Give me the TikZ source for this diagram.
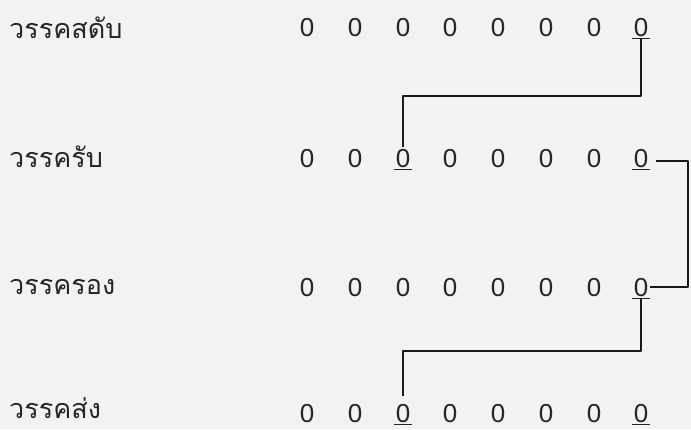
\documentclass[tikz,border=0pt]{standalone}
\usepackage{fontspec}
\newfontfamily\thaifont[Script=Thai]{Loma}
\newfontfamily\digitfont{Liberation Sans}
\begin{document}
\begin{tikzpicture}[x=1pt,y=-1pt,
  lbl/.style={font=\thaifont\fontsize{27}{30}\selectfont, anchor=base west, inner sep=0pt, text depth=0pt, text height=22pt, text=black!85},
  zero/.style={font=\digitfont\fontsize{26}{28}\selectfont, inner xsep=0pt, inner ysep=2pt, minimum width=18pt, text height=18.6pt, text depth=0pt, text=black!85},
  link/.style={line width=2.8pt, line join=round, black!90},
  ul/.style={line width=1.5pt, black!85}]
\fill[white!95!black] (0,0) rectangle (691,429);
\useasboundingbox (0,0) rectangle (691,429);
% labels
\node[lbl] (l1) at (9,38) {วรรคสดับ};
\node[lbl] (l2) at (9,167) {วรรครับ};
\node[lbl] (l3) at (9,294) {วรรครอง};
\node[lbl] (l4) at (9,418) {วรรคส่ง};
% zeros
\foreach \r/\y in {1/27,2/158,3/287,4/413}
  \foreach \c/\x in {1/307,2/355,3/403,4/450,5/498,6/546,7/594,8/641}
    \node[zero] (z\r\c) at (\x,\y) {0};
% underlines
\foreach \n in {18,23,28,38,43,48}
  \draw[ul] (z\n.south west) -- (z\n.south east);
\coordinate (rt) at (688,0);
% connectors
\draw[link] (z18.south) |- (z23.north |- 0,96) -- (z23.north);
\draw[link] ([xshift=6pt,yshift=-3pt]z28.east) -- ([yshift=-3pt]z28.east -| rt) |- (z38.east);
\draw[link] (z38.south) |- (z43.north |- 0,351) -- ([yshift=6pt]z43.north);
\end{tikzpicture}
\end{document}
